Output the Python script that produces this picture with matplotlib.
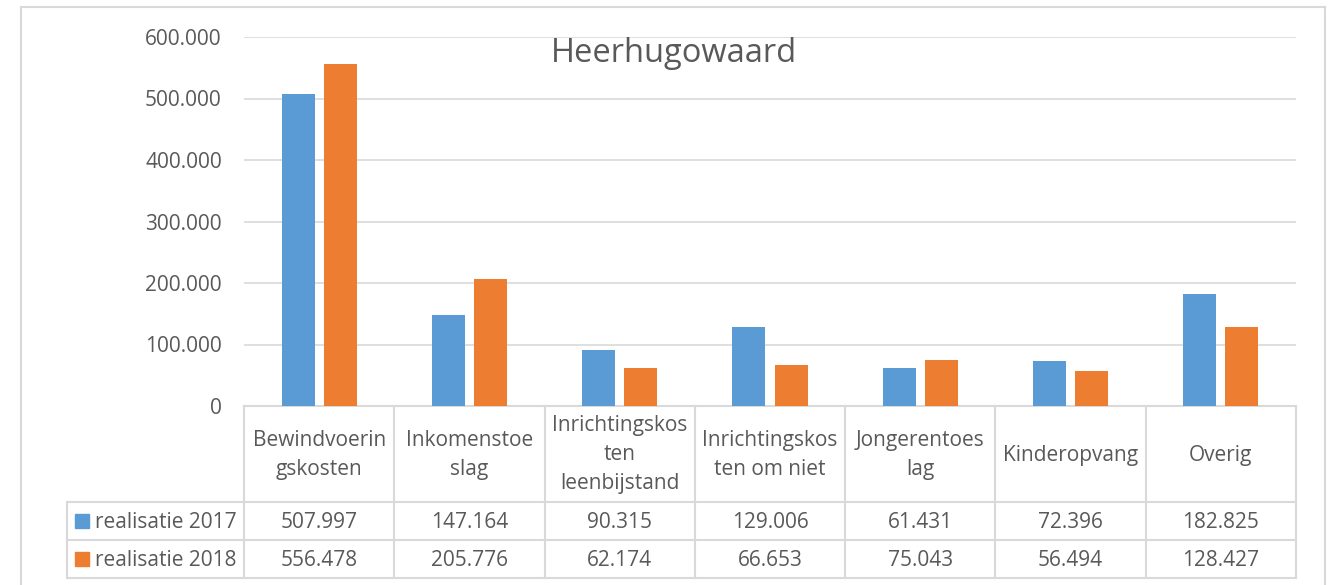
import matplotlib
matplotlib.use("Agg")
import matplotlib.pyplot as plt
import numpy as np
from matplotlib.lines import Line2D
from matplotlib.patches import Rectangle

categories = ["Bewindvoerin\ngskosten", "Inkomenstoe\nslag", "Inrichtingskos\nten\nleenbijstand",
              "Inrichtingskos\nten om niet", "Jongerentoes\nlag", "Kinderopvang", "Overig"]
series_names = ["realisatie 2017", "realisatie 2018"]
realisatie_2017 = [507997, 147164, 90315, 129006, 61431, 72396, 182825]
realisatie_2018 = [556478, 205776, 62174, 66653, 75043, 56494, 128427]
yticks = [0, 100000, 200000, 300000, 400000, 500000, 600000]
title = "Heerhugowaard"

W, H = 1332, 585
plt.rcParams['font.family'] = ['Open Sans', 'DejaVu Sans']
TXT = '#595959'
GRID = '#D9D9D9'
C17 = '#5B9BD5'
C18 = '#ED7D31'
FS = 15

def fx(x): return x / W
def fy(y): return 1 - y / H

fig = plt.figure(figsize=(W/100, H/100), dpi=100)

# outer frame
for xs, ys in [((21, 21), (7, 600)), ((1325, 1325), (7, 600)), ((21, 1325), (7, 7))]:
    fig.add_artist(Line2D([fx(v) for v in xs], [fy(v) for v in ys], color=GRID, lw=1.5,
                          transform=fig.transFigure))

L, R, T, B = 244, 1296, 37, 406
ax = fig.add_axes([fx(L), fy(B), fx(R) - fx(L), (B - T) / H])
x = np.arange(len(categories))
ax.bar(x - 0.14, realisatie_2017, width=0.22, color=C17, zorder=3)
ax.bar(x + 0.14, realisatie_2018, width=0.22, color=C18, zorder=3)
ax.set_xlim(-0.5, len(categories) - 0.5)
ax.set_ylim(0, 600000)
ax.set_yticks(yticks)
ax.set_yticklabels([f"{v:,}".replace(",", ".") for v in yticks], fontsize=FS, color=TXT)
ax.tick_params(axis='y', length=0, pad=16)
ax.set_xticks([])
ax.grid(axis='y', color=GRID, lw=1.2, zorder=0)
for s in ['left', 'right', 'top']:
    ax.spines[s].set_visible(False)
ax.spines['bottom'].set_color(GRID)
ax.spines['bottom'].set_linewidth(1.5)
ax.set_facecolor('none')

fig.text(fx(674), fy(53), title, fontsize=23.5, color=TXT, ha='center', va='center')

# data table
colw = (R - L) / len(categories)
row_hdr_bot, row1_bot, row2_bot = 502, 540, 578
def hline(x0, x1, y):
    fig.add_artist(Line2D([fx(x0), fx(x1)], [fy(y), fy(y)], color=GRID, lw=1.5, transform=fig.transFigure))
def vline(xv, y0, y1):
    fig.add_artist(Line2D([fx(xv), fx(xv)], [fy(y0), fy(y1)], color=GRID, lw=1.5, transform=fig.transFigure))

for i in range(len(categories) + 1):
    vline(L + i * colw, B, row2_bot)
vline(67, row_hdr_bot, row2_bot)
for y in (row_hdr_bot, row1_bot, row2_bot):
    hline(67, R, y)

for i, c in enumerate(categories):
    cx = L + (i + 0.5) * colw
    fig.text(fx(cx), fy((B + row_hdr_bot) / 2 + 1), c, fontsize=FS, color=TXT,
             ha='center', va='center', linespacing=1.5, multialignment='center')
    fig.text(fx(cx), fy((row_hdr_bot + row1_bot) / 2 + 1), f"{realisatie_2017[i]:,}".replace(",", "."),
             fontsize=FS, color=TXT, ha='center', va='center')
    fig.text(fx(cx), fy((row1_bot + row2_bot) / 2 + 1), f"{realisatie_2018[i]:,}".replace(",", "."),
             fontsize=FS, color=TXT, ha='center', va='center')

for name, col, (y0, y1) in [(series_names[0], C17, (row_hdr_bot, row1_bot)),
                            (series_names[1], C18, (row1_bot, row2_bot))]:
    yc = (y0 + y1) / 2
    fig.add_artist(Rectangle((fx(75), fy(yc + 7)), 14 / W, 14 / H, color=col, transform=fig.transFigure))
    fig.text(fx(95), fy(yc + 1), name, fontsize=FS, color=TXT, ha='left', va='center')

fig.savefig("out.png", dpi=100)
